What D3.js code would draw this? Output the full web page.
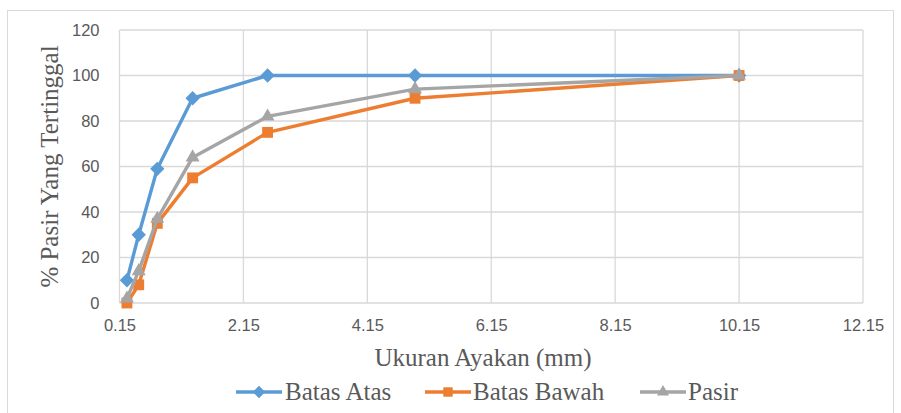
<!DOCTYPE html>
<html>
<head>
<meta charset="utf-8">
<script src="https://cdn.jsdelivr.net/npm/d3@7/dist/d3.min.js"></script>
<style>
  html, body { margin: 0; padding: 0; background: #fff; }
  svg { display: block; }
</style>
</head>
<body>
<svg id="chart" width="901" height="413"></svg>
<script>
// ---- data ----
const sieveSizes = [0.27, 0.46, 0.76, 1.33, 2.54, 4.92, 10.15];
const batasAtas  = [10, 30, 59, 90, 100, 100, 100];
const batasBawah = [0, 8, 35, 55, 75, 90, 100];
const pasir      = [2, 14, 37, 64, 82, 94, 100];
const xTicks = [0.15, 2.15, 4.15, 6.15, 8.15, 10.15, 12.15];
const yTicks = [0, 20, 40, 60, 80, 100, 120];
const seriesNames = ["Batas Atas", "Batas Bawah", "Pasir"];
const xTitle = "Ukuran Ayakan (mm)";
const yTitle = "% Pasir Yang Tertinggal";

// ---- layout ----
const svg = d3.select("#chart");
const plot = { left: 119.5, right: 863, top: 30, bottom: 303 };
const gridColor = "#d9d9d9";
const textColor = "#595959";
const serif = "Liberation Serif, Times New Roman, serif";
const colors = ["#5b9bd5", "#ed7d31", "#a5a5a5"];
const shapes = [d3.symbolDiamond2, d3.symbolSquare2, d3.symbolTriangle2];
const markerSizes = [130, 150, 140];

const x = d3.scaleLinear().domain([0.15, 12.15]).range([plot.left, plot.right]);
const y = d3.scaleLinear().domain([0, 120]).range([plot.bottom, plot.top]);

// outer chart border
svg.append("rect")
  .attr("x", 7.5).attr("y", 10.5).attr("width", 886).attr("height", 410)
  .attr("fill", "none").attr("stroke", gridColor).attr("stroke-width", 1);

// gridlines
const grid = svg.append("g");
grid.selectAll("line.h").data(yTicks).join("line")
  .attr("x1", plot.left).attr("x2", plot.right)
  .attr("y1", d => y(d)).attr("y2", d => y(d))
  .attr("stroke", gridColor).attr("stroke-width", 1.3);
grid.selectAll("line.v").data(xTicks).join("line")
  .attr("y1", plot.top).attr("y2", plot.bottom)
  .attr("x1", d => x(d)).attr("x2", d => x(d))
  .attr("stroke", gridColor).attr("stroke-width", 1.3);

// axes (labels only)
const xAxis = svg.append("g")
  .attr("transform", `translate(0,${plot.bottom})`)
  .call(d3.axisBottom(x).tickValues(xTicks).tickFormat(d3.format(".2f")).tickSize(0).tickPadding(16));
const yAxis = svg.append("g")
  .attr("transform", `translate(${plot.left},0)`)
  .call(d3.axisLeft(y).tickValues(yTicks).tickFormat(d3.format("d")).tickSize(0).tickPadding(20));
[xAxis, yAxis].forEach(a => {
  a.select(".domain").remove();
  a.selectAll("text")
    .attr("fill", textColor)
    .attr("font-family", "Liberation Sans, Arial, sans-serif")
    .attr("font-size", "16.5px");
});

// axis titles
svg.append("text")
  .attr("x", 483).attr("y", 366)
  .attr("text-anchor", "middle")
  .attr("fill", textColor)
  .attr("font-family", serif)
  .attr("font-size", "25px")
  .text(xTitle);
svg.append("text")
  .attr("transform", `translate(58,${(plot.top + plot.bottom) / 2}) rotate(-90)`)
  .attr("text-anchor", "middle")
  .attr("fill", textColor)
  .attr("font-family", serif)
  .attr("font-size", "25px")
  .text(yTitle);

// series
const allSeries = [batasAtas, batasBawah, pasir];
const line = d3.line().x((d, i) => x(sieveSizes[i])).y(d => y(d));
allSeries.forEach((vals, si) => {
  const g = svg.append("g");
  g.append("path")
    .attr("d", line(vals))
    .attr("fill", "none")
    .attr("stroke", colors[si])
    .attr("stroke-width", 3.4)
    .attr("stroke-linejoin", "round");
  g.selectAll("path.m").data(vals).join("path")
    .attr("class", "m")
    .attr("transform", (d, i) => `translate(${x(sieveSizes[i])},${y(d)})`)
    .attr("d", d3.symbol().type(shapes[si]).size(markerSizes[si]))
    .attr("fill", colors[si]);
});

// legend
const legendItems = [
  { x0: 236, x1: 282, tx: 285 },
  { x0: 425, x1: 471, tx: 473 },
  { x0: 640, x1: 686, tx: 688 }
];
const legendY = 392;
legendItems.forEach((it, si) => {
  const g = svg.append("g");
  g.append("line")
    .attr("x1", it.x0).attr("x2", it.x1)
    .attr("y1", legendY).attr("y2", legendY)
    .attr("stroke", colors[si]).attr("stroke-width", 3.4);
  g.append("path")
    .attr("transform", `translate(${(it.x0 + it.x1) / 2},${legendY})`)
    .attr("d", d3.symbol().type(shapes[si]).size(markerSizes[si] * 0.75))
    .attr("fill", colors[si]);
  g.append("text")
    .attr("x", it.tx).attr("y", 400)
    .attr("fill", textColor)
    .attr("font-family", serif)
    .attr("font-size", "25px")
    .text(seriesNames[si]);
});
</script>
</body>
</html>
